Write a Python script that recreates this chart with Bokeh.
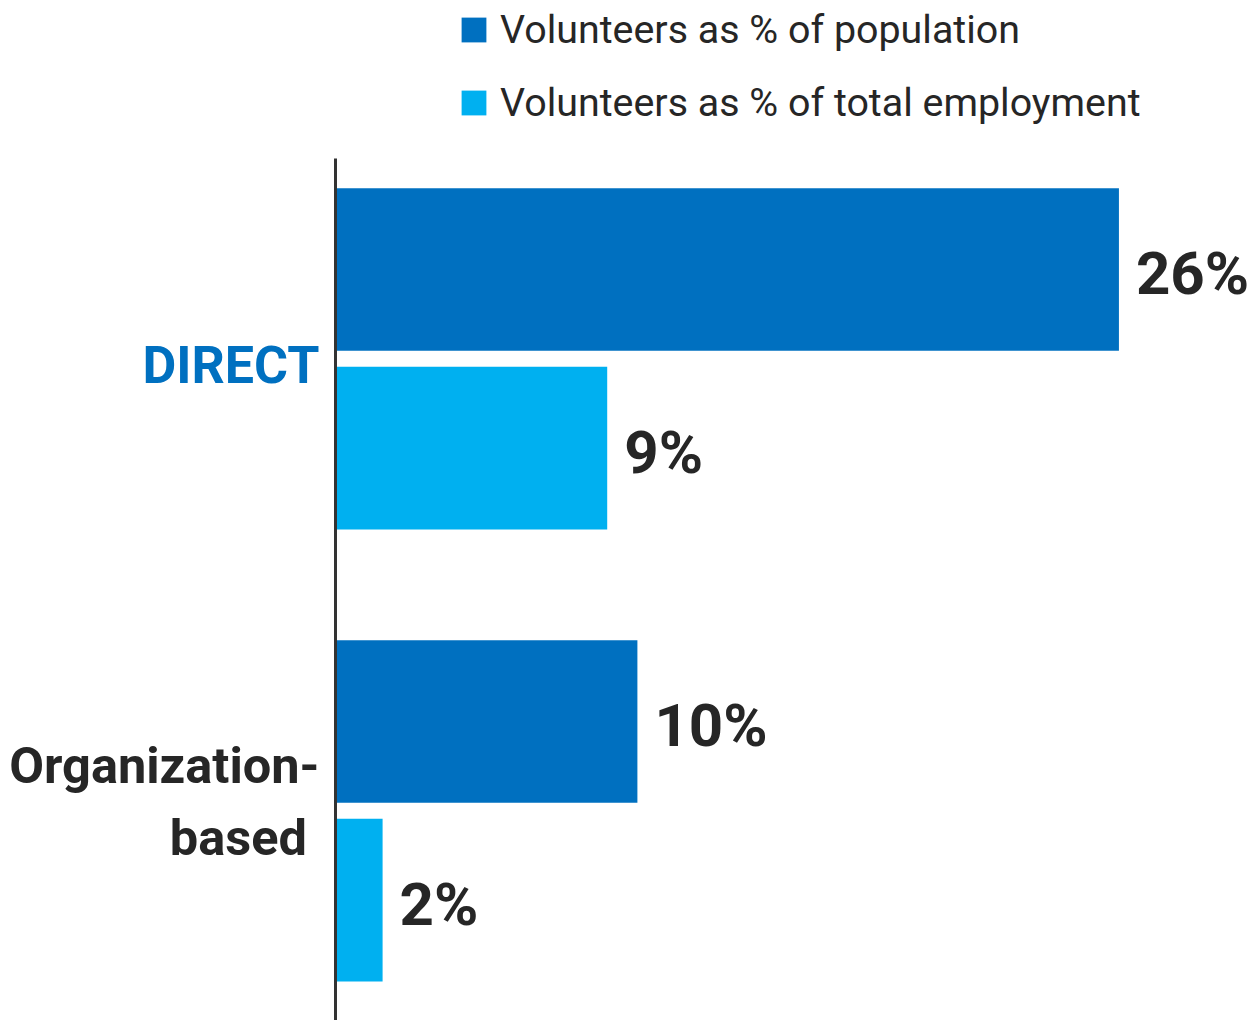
from bokeh.plotting import figure
from bokeh.models import Range1d, ColumnDataSource, Legend, LegendItem
from bokeh.core.properties import value
from bokeh.embed import file_html
from bokeh.resources import INLINE

# ---- data ----
categories = ["DIRECT", "Organization-\nbased "]
series_names = ["Volunteers as % of population", "Volunteers as % of total employment"]
pct_population = [25.95, 10.0]
pct_employment = [9.0, 1.56]
label_population = ["26%", "10%"]
label_employment = ["9%", "2%"]

# ---- style ----
FONT = "Roboto"
DARK = "#0070C0"
LIGHT = "#00B0F0"
TEXT = "#262626"

W, H = 1253, 1020
px_per_unit_x = 30.19
axis_px = 335
px_per_cat = 452
first_px = 269
bar_h = 0.36
offset = 0.395

x_range = Range1d(-axis_px / px_per_unit_x, (W - axis_px) / px_per_unit_x)
y_top = -first_px / px_per_cat
y_bottom = (H - first_px) / px_per_cat
y_range = Range1d(y_bottom, y_top)

p = figure(width=W, height=H, x_range=x_range, y_range=y_range,
           output_backend="svg", toolbar_location=None,
           min_border=0, min_border_left=0, min_border_right=0,
           min_border_top=0, min_border_bottom=0)
p.axis.visible = False
p.grid.visible = False
p.outline_line_color = None
p.background_fill_color = "white"

idx = list(range(len(categories)))
src_pop = ColumnDataSource(dict(y=[i for i in idx], v=pct_population, lab=label_population))
src_emp = ColumnDataSource(dict(y=[i + offset for i in idx], v=pct_employment, lab=label_employment))

r_pop = p.hbar(y="y", right="v", left=0, height=bar_h, source=src_pop,
               fill_color=DARK, line_color=None)
r_emp = p.hbar(y="y", right="v", left=0, height=bar_h, source=src_emp,
               fill_color=LIGHT, line_color=None)

# axis line
axis_top = y_top + 158 / px_per_cat
p.segment(x0=[0], y0=[axis_top], x1=[0], y1=[y_bottom], line_color="#333333", line_width=3)

# value labels
for src in (src_pop, src_emp):
    p.text(x="v", y="y", text="lab", source=src, x_offset=17, y_offset=4,
           text_font=value(FONT), text_font_style="bold", text_font_size="60px",
           text_color=TEXT, text_align="left", text_baseline="middle")

# category labels
cat_src = ColumnDataSource(dict(x=[0] * len(categories),
                                y=[i + offset / 2 for i in idx],
                                t=categories,
                                c=[DARK, TEXT],
                                fs=["52px", "50.5px"],
                                dy=[7, -9]))
p.text(x="x", y="y", text="t", source=cat_src, x_offset=-16, y_offset="dy",
       text_font=value(FONT), text_font_style="bold", text_font_size="fs",
       text_color="c", text_align="right", text_baseline="middle", text_line_height=1.22)

legend = Legend(items=[LegendItem(label=series_names[0], renderers=[r_pop]),
                       LegendItem(label=series_names[1], renderers=[r_emp])],
                location=(458, 894), orientation="vertical",
                glyph_width=31, glyph_height=31, label_standoff=11,
                label_text_font=FONT, label_text_font_size="39.4px", label_text_color=TEXT,
                spacing=26, padding=0, margin=0,
                border_line_color=None, background_fill_alpha=0)
p.add_layout(legend)

open("out.html", "w").write(file_html(p, INLINE))
